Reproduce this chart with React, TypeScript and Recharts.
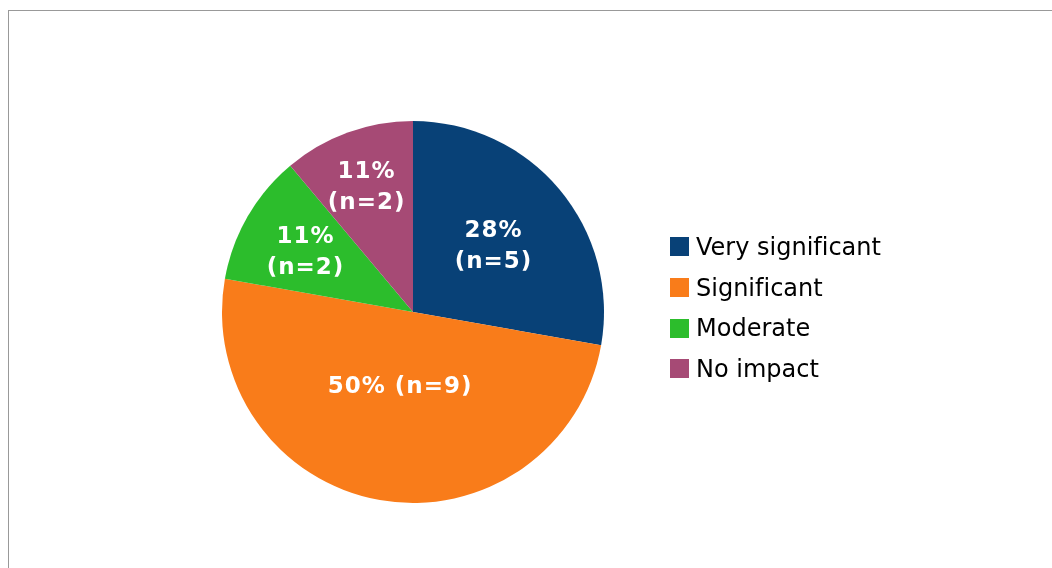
import { PieChart, Pie, Cell, Legend } from "recharts";

const categories = ["Very significant", "Significant", "Moderate", "No impact"];
const counts = [5, 9, 2, 2];
const colors = ["#084177", "#F97C1A", "#2CBD2C", "#A64A75"];

// how far out each label sits, as a share of the radius
const labelRadius = [0.55, 0.39, 0.65, 0.71];

const data = categories.map((name, i) => ({ name, value: counts[i] }));

const RAD = Math.PI / 180;
const FONT = "'DejaVu Sans', Verdana, sans-serif";

function renderLabel(props: any) {
  const { cx, cy, midAngle, outerRadius, percent, value, index } = props;
  const r = outerRadius * labelRadius[index];
  const x = cx + r * Math.cos(-midAngle * RAD);
  const y = cy + r * Math.sin(-midAngle * RAD);
  const pct = Math.round(percent * 100) + "%";
  const n = "(n=" + value + ")";
  const style = { letterSpacing: 1 };
  if (percent >= 0.5) {
    return (
      <text x={x} y={y} fill="#fff" textAnchor="middle" dominantBaseline="central"
        fontFamily={FONT} fontWeight="bold" fontSize={23} style={style}>
        {pct + " " + n}
      </text>
    );
  }
  return (
    <text x={x} y={y} fill="#fff" textAnchor="middle" fontFamily={FONT} fontWeight="bold" fontSize={23} style={style}>
      <tspan x={x} dy={-7}>{pct}</tspan>
      <tspan x={x} dy={31}>{n}</tspan>
    </text>
  );
}

function renderLegend() {
  return (
    <div style={{ fontFamily: FONT, fontSize: 24, color: "#000", fontVariantLigatures: "none" }}>
      {categories.map((c, i) => (
        <div key={c} style={{ display: "flex", alignItems: "center", height: 40.7 }}>
          <span style={{ display: "inline-block", width: 19, height: 19, background: colors[i], marginRight: 7 }} />
          <span>{c}</span>
        </div>
      ))}
    </div>
  );
}

export default function App() {
  return (
    <div
      style={{
        position: "fixed",
        left: 8,
        top: 10,
        width: 1044,
        height: 558,
        borderTop: "1px solid #999",
        borderLeft: "1px solid #999",
        boxSizing: "border-box",
      }}
    >
      <PieChart width={1043} height={557} margin={{ top: 0, right: 0, bottom: 0, left: 0 }}>
        <Pie
          data={data}
          dataKey="value"
          nameKey="name"
          cx={404}
          cy={301}
          outerRadius={191}
          startAngle={90}
          endAngle={-270}
          stroke="none"
          label={renderLabel}
          labelLine={false}
          isAnimationActive={false}
        >
          {data.map((d, i) => (
            <Cell key={d.name} fill={colors[i]} />
          ))}
        </Pie>
        <Legend
          layout="vertical"
          align="right"
          verticalAlign="top"
          content={renderLegend}
          wrapperStyle={{ left: 661, top: 215.5, right: "auto", width: 300 }}
        />
      </PieChart>
    </div>
  );
}
